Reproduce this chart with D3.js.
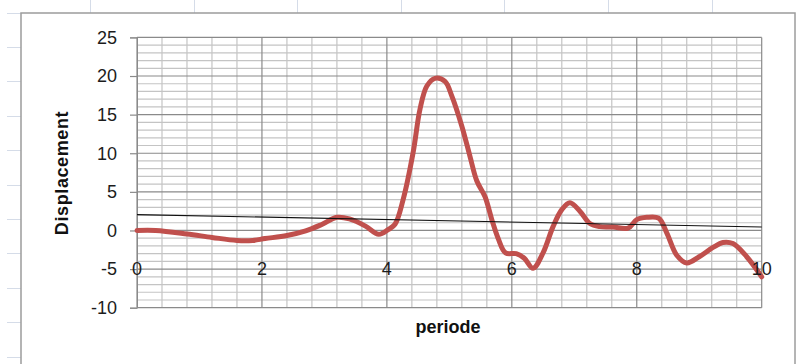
<!DOCTYPE html>
<html>
<head>
<meta charset="utf-8">
<script src="https://cdn.jsdelivr.net/npm/d3@7"></script>
<style>
  html, body { margin: 0; padding: 0; background: #fff; }
  svg { display: block; }
</style>
</head>
<body>
<svg id="chart" width="798" height="364"></svg>
<script>
// periode values and displacement
var periode = [0, 0.3, 0.8, 1.2, 1.6, 1.85, 2.05, 2.4, 2.7, 2.95, 3.2, 3.4, 3.65, 3.87, 4.02,
    4.13, 4.26, 4.42, 4.53, 4.64, 4.77, 4.93, 5.04, 5.2, 5.33, 5.44, 5.57, 5.68, 5.78, 5.9,
    6.07, 6.2, 6.34, 6.5, 6.66, 6.8, 6.93, 7.09, 7.25, 7.41, 7.62, 7.86, 8.0, 8.16, 8.35,
    8.48, 8.64, 8.8, 9.0, 9.22, 9.38, 9.54, 9.76, 10];
var displacement = [0, 0, -0.45, -0.9, -1.3, -1.3, -1.05, -0.65, -0.05, 0.75, 1.7, 1.5, 0.6, -0.5, 0.1,
    0.8, 4.0, 10.1, 15.7, 18.7, 19.7, 19.3, 17.4, 13.5, 9.6, 6.4, 4.4, 1.4, -1.0, -2.9,
    -3.0, -3.6, -4.9, -2.9, 0.5, 2.7, 3.6, 2.5, 0.9, 0.5, 0.45, 0.3, 1.4, 1.7, 1.6,
    -0.3, -3.2, -4.2, -3.4, -2.2, -1.55, -1.7, -3.4, -6.0];

// linear trendline
var trendX = [0, 10];
var trendY = [2.05, 0.45];

var xTicks = [0, 2, 4, 6, 8, 10];
var yTicks = [-10, -5, 0, 5, 10, 15, 20, 25];

function drawChart() {
    var svg = d3.select("#chart"),
        W = +svg.attr("width"),
        H = +svg.attr("height");

    // spreadsheet behind the chart
    var sheet = svg.append("g").attr("stroke", "#d5dce8").attr("stroke-width", 1);
    d3.range(90, W, 103.6).forEach(function (cx) {
        sheet.append("line")
            .attr("x1", Math.round(cx) + 0.5).attr("x2", Math.round(cx) + 0.5)
            .attr("y1", 0).attr("y2", 13);
    });
    d3.range(12.5, H, 34.4).forEach(function (ry) {
        sheet.append("line")
            .attr("x1", 7).attr("x2", 21)
            .attr("y1", Math.round(ry) + 0.5).attr("y2", Math.round(ry) + 0.5);
    });

    // chart area box
    svg.append("rect")
        .attr("x", 21).attr("y", 13)
        .attr("width", 774).attr("height", 360)
        .attr("fill", "#fff")
        .attr("stroke", "#9c9c9c")
        .attr("stroke-width", 1.5);

    var x = d3.scaleLinear().domain([0, 10]).range([137, 761.7]);
    var y = d3.scaleLinear().domain([-10, 25]).range([307.7, 37.4]);

    var grid = svg.append("g");

    // minor grid
    grid.append("g")
        .attr("stroke", "#c4c4c4")
        .attr("stroke-width", 1.2)
        .selectAll("line")
        .data(d3.range(1, 25).map(function (i) { return i * 0.4; }).filter(function (v) { return Math.abs(v / 2 - Math.round(v / 2)) > 1e-6; }))
        .enter().append("line")
        .attr("x1", x).attr("x2", x)
        .attr("y1", y(25)).attr("y2", y(-10));

    grid.append("g")
        .attr("stroke", "#c4c4c4")
        .attr("stroke-width", 1.2)
        .selectAll("line")
        .data(d3.range(-10, 26).filter(function (v) { return v % 5 !== 0; }))
        .enter().append("line")
        .attr("x1", x(0)).attr("x2", x(10))
        .attr("y1", y).attr("y2", y);

    // major grid
    grid.append("g")
        .attr("stroke", "#8a8a8a")
        .attr("stroke-width", 1.2)
        .selectAll("line")
        .data(xTicks)
        .enter().append("line")
        .attr("x1", x).attr("x2", x)
        .attr("y1", y(25)).attr("y2", y(-10));

    grid.append("g")
        .attr("stroke", "#8a8a8a")
        .attr("stroke-width", 1.2)
        .selectAll("line")
        .data(yTicks)
        .enter().append("line")
        .attr("x1", x(0)).attr("x2", x(10))
        .attr("y1", y).attr("y2", y);

    // y axis
    svg.append("g")
        .attr("transform", "translate(" + x(0) + ",0)")
        .call(d3.axisLeft(y).tickValues(yTicks).tickSize(7).tickPadding(13).tickFormat(String))
        .call(g => g.select(".domain").attr("stroke", "#8a8a8a"))
        .call(g => g.selectAll(".tick line").attr("stroke", "#8a8a8a").attr("stroke-width", 1.2))
        .call(g => g.selectAll(".tick text")
            .attr("font-family", "Liberation Sans, Arial, sans-serif")
            .attr("font-size", 18)
            .attr("fill", "#1c1c1c"));

    // series
    var pts = periode.map(function (p, i) { return [p, displacement[i]]; });
    var line = d3.line()
        .x(function (d) { return x(d[0]); })
        .y(function (d) { return y(d[1]); })
        .curve(d3.curveCatmullRom.alpha(0.5));

    svg.append("path")
        .datum(pts)
        .attr("fill", "none")
        .attr("stroke", "#c0504d")
        .attr("stroke-width", 5)
        .attr("stroke-linejoin", "round")
        .attr("stroke-linecap", "round")
        .attr("d", line);

    svg.append("path")
        .datum(trendX.map(function (t, i) { return [t, trendY[i]]; }))
        .attr("fill", "none")
        .attr("stroke", "#111")
        .attr("stroke-width", 1.2)
        .attr("d", d3.line().x(function (d) { return x(d[0]); }).y(function (d) { return y(d[1]); }));

    // x labels sit on the -5 line
    svg.append("g")
        .attr("font-family", "Liberation Sans, Arial, sans-serif")
        .attr("font-size", 18)
        .attr("fill", "#1c1c1c")
        .attr("text-anchor", "middle")
        .selectAll("text")
        .data(xTicks)
        .enter().append("text")
        .attr("x", x)
        .attr("y", y(-5))
        .attr("dy", "0.35em")
        .text(function (d) { return d; });

    // axis titles
    svg.append("text")
        .attr("x", 448)
        .attr("y", 327)
        .attr("dy", "0.35em")
        .attr("text-anchor", "middle")
        .attr("font-family", "Liberation Sans, Arial, sans-serif")
        .attr("font-weight", "bold")
        .attr("font-size", 18)
        .attr("fill", "#111")
        .text("periode");

    svg.append("text")
        .attr("transform", "translate(62,173) rotate(-90)")
        .attr("dy", "0.35em")
        .attr("text-anchor", "middle")
        .attr("font-family", "Liberation Sans, Arial, sans-serif")
        .attr("font-weight", "bold")
        .attr("font-size", 18)
        .attr("letter-spacing", 0.6)
        .attr("fill", "#111")
        .text("Displacement");
}

drawChart();
</script>
</body>
</html>
